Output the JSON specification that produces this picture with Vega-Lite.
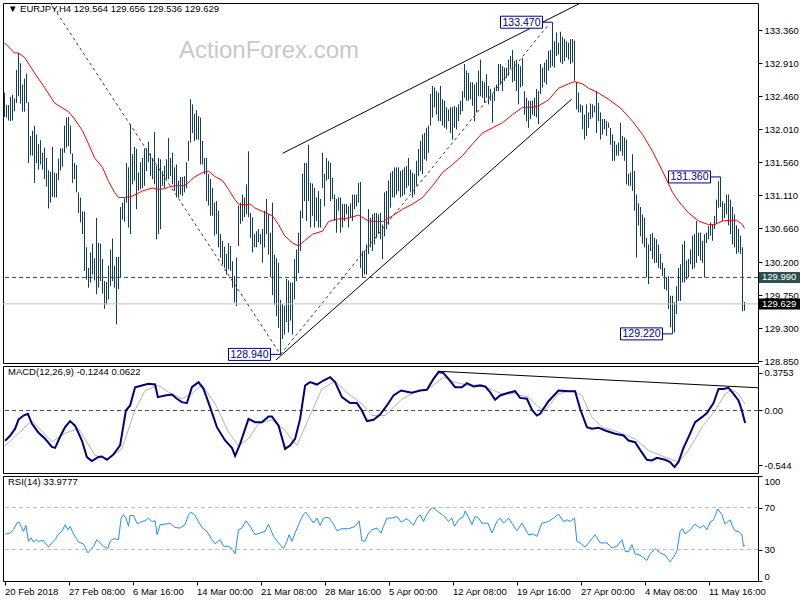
{
"$schema":"https://vega.github.io/schema/vega-lite/v6.json",
"background":"white",
"padding":{"left":2,"top":2,"right":0,"bottom":0},
"bounds":"flush",
"spacing":3,
"config":{
 "view":{"stroke":"#000000","strokeWidth":1},
 "axis":{"labelFont":"Liberation Sans","labelFontSize":9.5,"labelColor":"#000000","tickColor":"#000000","domain":false,"grid":false,"tickSize":4,"labelPadding":2,"labelOverlap":false,"labelBound":false},
 "title":{"font":"Liberation Sans","fontSize":9.5,"fontWeight":"normal","color":"#000000","anchor":"start","frame":"group","baseline":"middle"}
},
"datasets":{
"one":[{"n":1}],
"bars":[
{"i":0,"h":132.51,"l":132.18},{"i":1,"h":132.34,"l":132.17},{"i":2,"h":132.34,"l":132.13},{"i":3,"h":132.45,"l":132.12},{"i":4,"h":132.48,"l":132.13},{"i":5,"h":132.43,"l":132.26},{"i":6,"h":132.82,"l":132.37},{"i":7,"h":133.05,"l":132.46},{"i":8,"h":132.91,"l":132.36},{"i":9,"h":132.62,"l":132.25},
{"i":10,"h":132.70,"l":132.25},{"i":11,"h":132.77,"l":132.37},{"i":12,"h":132.38,"l":131.55},{"i":13,"h":131.92,"l":131.65},{"i":14,"h":131.99,"l":131.65},{"i":15,"h":132.06,"l":131.28},{"i":16,"h":131.94,"l":131.55},{"i":17,"h":131.81,"l":131.46},{"i":18,"h":131.86,"l":131.53},{"i":19,"h":131.69,"l":131.46},
{"i":20,"h":131.76,"l":131.33},{"i":21,"h":131.62,"l":131.23},{"i":22,"h":131.45,"l":130.93},{"i":23,"h":131.43,"l":131.01},{"i":24,"h":131.77,"l":131.09},{"i":25,"h":131.42,"l":131.08},{"i":26,"h":131.41,"l":131.08},{"i":27,"h":131.61,"l":131.32},{"i":28,"h":131.75,"l":131.45},{"i":29,"h":131.75,"l":131.50},
{"i":30,"h":132.06,"l":131.69},{"i":31,"h":132.17,"l":131.76},{"i":32,"h":132.18,"l":131.78},{"i":33,"h":132.06,"l":131.67},{"i":34,"h":131.68,"l":131.28},{"i":35,"h":131.55,"l":131.33},{"i":36,"h":131.52,"l":131.15},{"i":37,"h":131.15,"l":130.87},{"i":38,"h":131.08,"l":130.74},{"i":39,"h":130.89,"l":130.58},
{"i":40,"h":130.89,"l":130.08},{"i":41,"h":130.40,"l":129.96},{"i":42,"h":130.12,"l":129.85},{"i":43,"h":130.33,"l":129.92},{"i":44,"h":130.45,"l":130.03},{"i":45,"h":130.25,"l":129.95},{"i":46,"h":130.80,"l":129.76},{"i":47,"h":130.46,"l":129.85},{"i":48,"h":130.45,"l":129.94},{"i":49,"h":130.24,"l":129.77},
{"i":50,"h":129.94,"l":129.56},{"i":51,"h":129.93,"l":129.62},{"i":52,"h":130.15,"l":129.69},{"i":53,"h":130.37,"l":129.87},{"i":54,"h":130.52,"l":129.94},{"i":55,"h":130.15,"l":129.85},{"i":56,"h":130.27,"l":129.35},{"i":57,"h":130.27,"l":129.83},{"i":58,"h":130.95,"l":129.99},{"i":59,"h":131.01,"l":130.78},
{"i":60,"h":131.07,"l":130.75},{"i":61,"h":131.55,"l":131.01},{"i":62,"h":131.49,"l":130.67},{"i":63,"h":132.08,"l":130.58},{"i":64,"h":131.67,"l":131.26},{"i":65,"h":131.77,"l":131.31},{"i":66,"h":131.74,"l":130.92},{"i":67,"h":131.42,"l":131.17},{"i":68,"h":131.56,"l":131.19},{"i":69,"h":131.62,"l":131.21},
{"i":70,"h":131.75,"l":131.24},{"i":71,"h":131.75,"l":131.44},{"i":72,"h":131.84,"l":131.56},{"i":73,"h":131.68,"l":131.37},{"i":74,"h":131.62,"l":131.33},{"i":75,"h":131.97,"l":131.26},{"i":76,"h":131.51,"l":130.51},{"i":77,"h":131.62,"l":130.58},{"i":78,"h":131.60,"l":130.65},{"i":79,"h":131.44,"l":131.24},
{"i":80,"h":131.51,"l":131.21},{"i":81,"h":131.60,"l":131.33},{"i":82,"h":131.89,"l":131.33},{"i":83,"h":131.62,"l":131.37},{"i":84,"h":131.69,"l":131.26},{"i":85,"h":131.49,"l":131.17},{"i":86,"h":131.53,"l":131.08},{"i":87,"h":131.31,"l":131.08},{"i":88,"h":131.36,"l":131.12},{"i":89,"h":131.36,"l":131.10},
{"i":90,"h":131.37,"l":131.15},{"i":91,"h":131.56,"l":131.21},{"i":92,"h":131.85,"l":131.58},{"i":93,"h":132.42,"l":131.83},{"i":94,"h":132.35,"l":131.96},{"i":95,"h":132.22,"l":131.85},{"i":96,"h":132.27,"l":131.87},{"i":97,"h":132.19,"l":131.87},{"i":98,"h":132.17,"l":131.53},{"i":99,"h":131.85,"l":131.53},
{"i":100,"h":131.62,"l":131.40},{"i":101,"h":131.62,"l":131.03},{"i":102,"h":131.40,"l":130.97},{"i":103,"h":131.33,"l":130.83},{"i":104,"h":131.21,"l":130.83},{"i":105,"h":131.01,"l":130.56},{"i":106,"h":131.03,"l":130.58},{"i":107,"h":130.90,"l":130.40},{"i":108,"h":130.58,"l":130.26},{"i":109,"h":130.49,"l":130.17},
{"i":110,"h":130.41,"l":130.12},{"i":111,"h":130.31,"l":130.03},{"i":112,"h":130.46,"l":130.10},{"i":113,"h":130.42,"l":130.08},{"i":114,"h":130.21,"l":129.85},{"i":115,"h":130.01,"l":129.65},{"i":116,"h":130.26,"l":129.60},{"i":117,"h":130.97,"l":130.42},{"i":118,"h":131.01,"l":130.72},{"i":119,"h":131.12,"l":130.76},
{"i":120,"h":131.08,"l":130.81},{"i":121,"h":131.26,"l":130.85},{"i":122,"h":131.71,"l":130.81},{"i":123,"h":130.87,"l":130.53},{"i":124,"h":130.81,"l":130.33},{"i":125,"h":130.58,"l":130.40},{"i":126,"h":130.62,"l":130.40},{"i":127,"h":130.65,"l":130.47},{"i":128,"h":130.58,"l":130.44},{"i":129,"h":130.65,"l":130.19},
{"i":130,"h":130.90,"l":130.40},{"i":131,"h":131.06,"l":130.58},{"i":132,"h":130.85,"l":130.30},{"i":133,"h":130.60,"l":130.00},{"i":134,"h":131.01,"l":129.75},{"i":135,"h":130.30,"l":129.62},{"i":136,"h":130.25,"l":129.46},{"i":137,"h":130.19,"l":129.30},{"i":138,"h":129.68,"l":128.94},{"i":139,"h":129.63,"l":129.15},
{"i":140,"h":129.60,"l":129.21},{"i":141,"h":129.97,"l":129.38},{"i":142,"h":129.95,"l":129.24},{"i":143,"h":129.92,"l":129.40},{"i":144,"h":129.92,"l":129.21},{"i":145,"h":130.24,"l":129.69},{"i":146,"h":130.37,"l":129.94},{"i":147,"h":130.60,"l":130.05},{"i":148,"h":130.90,"l":130.35},{"i":149,"h":131.40,"l":130.80},
{"i":150,"h":131.55,"l":131.03},{"i":151,"h":131.55,"l":130.76},{"i":152,"h":131.80,"l":131.03},{"i":153,"h":131.28,"l":130.67},{"i":154,"h":131.27,"l":130.83},{"i":155,"h":131.21,"l":130.67},{"i":156,"h":131.08,"l":130.76},{"i":157,"h":131.17,"l":130.67},{"i":158,"h":131.06,"l":130.67},{"i":159,"h":131.69,"l":131.21},
{"i":160,"h":131.40,"l":130.96},{"i":161,"h":131.62,"l":131.31},{"i":162,"h":131.58,"l":131.33},{"i":163,"h":131.55,"l":131.03},{"i":164,"h":131.35,"l":131.06},{"i":165,"h":131.12,"l":130.76},{"i":166,"h":131.06,"l":130.60},{"i":167,"h":131.08,"l":130.90},{"i":168,"h":131.08,"l":130.60},{"i":169,"h":130.99,"l":130.67},
{"i":170,"h":130.99,"l":130.76},{"i":171,"h":130.99,"l":130.85},{"i":172,"h":130.96,"l":130.67},{"i":173,"h":131.00,"l":130.81},{"i":174,"h":131.12,"l":130.76},{"i":175,"h":131.12,"l":130.92},{"i":176,"h":131.12,"l":130.96},{"i":177,"h":131.28,"l":131.01},{"i":178,"h":131.29,"l":130.12},{"i":179,"h":130.35,"l":129.99},
{"i":180,"h":130.35,"l":130.03},{"i":181,"h":130.44,"l":130.03},{"i":182,"h":130.92,"l":130.31},{"i":183,"h":130.80,"l":130.40},{"i":184,"h":130.85,"l":130.35},{"i":185,"h":130.87,"l":130.44},{"i":186,"h":130.87,"l":130.53},{"i":187,"h":130.85,"l":130.58},{"i":188,"h":130.87,"l":130.51},{"i":189,"h":130.71,"l":130.24},
{"i":190,"h":131.15,"l":130.55},{"i":191,"h":131.17,"l":130.65},{"i":192,"h":131.31,"l":130.71},{"i":193,"h":131.42,"l":130.94},{"i":194,"h":131.44,"l":131.08},{"i":195,"h":131.49,"l":131.08},{"i":196,"h":131.49,"l":131.12},{"i":197,"h":131.49,"l":131.17},{"i":198,"h":131.44,"l":131.08},{"i":199,"h":131.46,"l":131.10},
{"i":200,"h":131.49,"l":131.12},{"i":201,"h":131.51,"l":131.21},{"i":202,"h":131.62,"l":131.24},{"i":203,"h":131.46,"l":131.15},{"i":204,"h":131.42,"l":131.08},{"i":205,"h":131.40,"l":131.12},{"i":206,"h":131.58,"l":131.24},{"i":207,"h":131.74,"l":131.37},{"i":208,"h":131.85,"l":131.44},{"i":209,"h":131.94,"l":131.40},
{"i":210,"h":131.96,"l":131.60},{"i":211,"h":132.03,"l":131.58},{"i":212,"h":132.06,"l":131.69},{"i":213,"h":132.49,"l":132.06},{"i":214,"h":132.60,"l":132.17},{"i":215,"h":132.58,"l":132.31},{"i":216,"h":132.53,"l":132.21},{"i":217,"h":132.51,"l":132.12},{"i":218,"h":132.60,"l":132.12},{"i":219,"h":132.42,"l":132.06},
{"i":220,"h":132.40,"l":132.03},{"i":221,"h":132.31,"l":132.01},{"i":222,"h":132.28,"l":132.12},{"i":223,"h":132.31,"l":131.96},{"i":224,"h":132.31,"l":131.87},{"i":225,"h":132.33,"l":132.03},{"i":226,"h":132.31,"l":132.01},{"i":227,"h":132.35,"l":132.12},{"i":228,"h":132.40,"l":132.21},{"i":229,"h":132.53,"l":132.26},
{"i":230,"h":132.90,"l":132.44},{"i":231,"h":132.81,"l":132.40},{"i":232,"h":132.78,"l":132.40},{"i":233,"h":132.65,"l":132.42},{"i":234,"h":132.65,"l":132.33},{"i":235,"h":132.62,"l":132.12},{"i":236,"h":132.65,"l":132.24},{"i":237,"h":132.81,"l":132.46},{"i":238,"h":132.96,"l":132.46},{"i":239,"h":132.67,"l":132.44},
{"i":240,"h":132.65,"l":132.37},{"i":241,"h":132.76,"l":132.44},{"i":242,"h":132.60,"l":132.35},{"i":243,"h":132.56,"l":132.40},{"i":244,"h":132.49,"l":132.10},{"i":245,"h":132.58,"l":132.40},{"i":246,"h":132.62,"l":132.53},{"i":247,"h":132.90,"l":132.53},{"i":248,"h":132.90,"l":132.62},{"i":249,"h":132.87,"l":132.53},
{"i":250,"h":132.85,"l":132.67},{"i":251,"h":132.85,"l":132.71},{"i":252,"h":132.96,"l":132.74},{"i":253,"h":133.01,"l":132.83},{"i":254,"h":133.09,"l":132.65},{"i":255,"h":132.94,"l":132.67},{"i":256,"h":132.96,"l":132.53},{"i":257,"h":132.90,"l":132.35},{"i":258,"h":132.87,"l":132.58},{"i":259,"h":132.98,"l":132.60},
{"i":260,"h":132.53,"l":132.21},{"i":261,"h":132.44,"l":132.12},{"i":262,"h":132.40,"l":132.03},{"i":263,"h":132.40,"l":132.15},{"i":264,"h":132.40,"l":132.21},{"i":265,"h":132.44,"l":132.19},{"i":266,"h":132.56,"l":132.17},{"i":267,"h":132.53,"l":132.08},{"i":268,"h":132.90,"l":132.49},{"i":269,"h":132.85,"l":132.58},
{"i":270,"h":132.92,"l":132.65},{"i":271,"h":132.96,"l":132.62},{"i":272,"h":133.08,"l":132.81},{"i":273,"h":133.09,"l":132.85},{"i":274,"h":133.47,"l":132.87},{"i":275,"h":133.21,"l":132.85},{"i":276,"h":133.33,"l":133.01},{"i":277,"h":133.19,"l":133.03},{"i":278,"h":133.34,"l":132.92},{"i":279,"h":133.27,"l":132.90},
{"i":280,"h":133.24,"l":132.94},{"i":281,"h":133.21,"l":132.99},{"i":282,"h":133.19,"l":132.96},{"i":283,"h":133.24,"l":132.90},{"i":284,"h":133.24,"l":132.92},{"i":285,"h":133.22,"l":132.67},{"i":286,"h":132.65,"l":132.28},{"i":287,"h":132.51,"l":132.24},{"i":288,"h":132.35,"l":132.24},{"i":289,"h":132.33,"l":132.01},
{"i":290,"h":132.21,"l":131.87},{"i":291,"h":132.35,"l":131.92},{"i":292,"h":132.24,"l":132.03},{"i":293,"h":132.36,"l":132.15},{"i":294,"h":132.35,"l":132.17},{"i":295,"h":132.33,"l":132.24},{"i":296,"h":132.53,"l":131.96},{"i":297,"h":132.37,"l":132.12},{"i":298,"h":132.24,"l":131.87},{"i":299,"h":132.15,"l":131.94},
{"i":300,"h":132.15,"l":132.01},{"i":301,"h":132.12,"l":131.92},{"i":302,"h":132.10,"l":132.03},{"i":303,"h":132.03,"l":131.80},{"i":304,"h":131.94,"l":131.58},{"i":305,"h":131.85,"l":131.58},{"i":306,"h":131.80,"l":131.65},{"i":307,"h":131.83,"l":131.65},{"i":308,"h":132.10,"l":131.71},{"i":309,"h":131.92,"l":131.65},
{"i":310,"h":131.90,"l":131.58},{"i":311,"h":131.87,"l":131.26},{"i":312,"h":131.40,"l":131.24},{"i":313,"h":131.42,"l":131.24},{"i":314,"h":131.67,"l":131.17},{"i":315,"h":131.44,"l":130.90},{"i":316,"h":131.12,"l":130.26},{"i":317,"h":131.00,"l":130.70},{"i":318,"h":130.95,"l":130.55},{"i":319,"h":130.85,"l":130.45},
{"i":320,"h":130.80,"l":130.40},{"i":321,"h":130.53,"l":129.99},{"i":322,"h":130.44,"l":129.90},{"i":323,"h":130.58,"l":130.35},{"i":324,"h":130.60,"l":130.24},{"i":325,"h":130.53,"l":130.19},{"i":326,"h":130.51,"l":130.19},{"i":327,"h":130.44,"l":130.12},{"i":328,"h":130.31,"l":130.10},{"i":329,"h":130.19,"l":130.01},
{"i":330,"h":130.12,"l":129.83},{"i":331,"h":129.99,"l":129.81},{"i":332,"h":130.01,"l":129.56},{"i":333,"h":129.74,"l":129.31},{"i":334,"h":129.74,"l":129.22},{"i":335,"h":129.65,"l":129.24},{"i":336,"h":129.87,"l":129.49},{"i":337,"h":130.12,"l":129.67},{"i":338,"h":130.17,"l":129.67},{"i":339,"h":130.44,"l":129.92},
{"i":340,"h":130.49,"l":129.92},{"i":341,"h":130.22,"l":129.96},{"i":342,"h":130.24,"l":129.99},{"i":343,"h":130.37,"l":130.17},{"i":344,"h":130.56,"l":130.10},{"i":345,"h":130.58,"l":130.12},{"i":346,"h":130.76,"l":130.19},{"i":347,"h":130.60,"l":130.28},{"i":348,"h":130.60,"l":130.22},{"i":349,"h":130.49,"l":130.19},
{"i":350,"h":130.58,"l":129.99},{"i":351,"h":130.60,"l":130.46},{"i":352,"h":130.69,"l":130.51},{"i":353,"h":130.74,"l":130.56},{"i":354,"h":130.71,"l":130.49},{"i":355,"h":130.83,"l":130.65},{"i":356,"h":131.05,"l":130.72},{"i":357,"h":131.30,"l":130.94},{"i":358,"h":131.36,"l":130.95},{"i":359,"h":131.03,"l":130.76},
{"i":360,"h":131.00,"l":130.80},{"i":361,"h":131.12,"l":130.85},{"i":362,"h":131.12,"l":130.70},{"i":363,"h":131.05,"l":130.58},{"i":364,"h":130.95,"l":130.44},{"i":365,"h":130.85,"l":130.40},{"i":366,"h":130.70,"l":130.31},{"i":367,"h":130.65,"l":130.33},{"i":368,"h":130.56,"l":130.31},{"i":369,"h":130.40,"l":129.53},
{"i":370,"h":129.656,"l":129.536}
],
"ma":[
{"i":0,"v":133.19},{"i":5,"v":133.05},{"i":7,"v":133.05},{"i":10,"v":132.99},{"i":15,"v":132.78},{"i":20,"v":132.58},{"i":25,"v":132.37},{"i":29,"v":132.30},{"i":32,"v":132.25},{"i":35,"v":132.15},{"i":39,"v":131.99},{"i":42,"v":131.81},{"i":45,"v":131.62},{"i":49,"v":131.49},{"i":52,"v":131.30},{"i":55,"v":131.15},{"i":57,"v":131.08},{"i":60,"v":131.08},{"i":64,"v":131.10},{"i":69,"v":131.17},{"i":74,"v":131.21},{"i":77,"v":131.19},{"i":80,"v":131.20},{"i":82,"v":131.22},{"i":85,"v":131.24},{"i":90,"v":131.24},{"i":93,"v":131.31},{"i":95,"v":131.36},{"i":99,"v":131.42},{"i":102,"v":131.44},{"i":105,"v":131.37},{"i":109,"v":131.31},{"i":112,"v":131.19},{"i":115,"v":131.06},{"i":117,"v":130.99},{"i":120,"v":130.98},{"i":123,"v":130.99},{"i":125,"v":130.94},{"i":129,"v":130.89},{"i":134,"v":130.83},{"i":137,"v":130.71},{"i":140,"v":130.56},{"i":144,"v":130.46},{"i":147,"v":130.42},{"i":150,"v":130.49},{"i":154,"v":130.58},{"i":159,"v":130.62},{"i":162,"v":130.75},{"i":165,"v":130.78},{"i":172,"v":130.80},{"i":177,"v":130.84},{"i":182,"v":130.76},{"i":189,"v":130.75},{"i":194,"v":130.83},{"i":199,"v":130.92},{"i":204,"v":130.99},{"i":209,"v":131.08},{"i":214,"v":131.24},{"i":219,"v":131.42},{"i":224,"v":131.53},{"i":229,"v":131.65},{"i":234,"v":131.81},{"i":239,"v":131.96},{"i":244,"v":132.03},{"i":249,"v":132.10},{"i":254,"v":132.21},{"i":259,"v":132.31},{"i":264,"v":132.31},{"i":267,"v":132.33},{"i":272,"v":132.41},{"i":277,"v":132.57},{"i":282,"v":132.63},{"i":285,"v":132.66},{"i":289,"v":132.63},{"i":292,"v":132.57},{"i":296,"v":132.52},{"i":302,"v":132.42},{"i":308,"v":132.30},{"i":314,"v":132.12},{"i":319,"v":131.94},{"i":324,"v":131.71},{"i":329,"v":131.44},{"i":334,"v":131.15},{"i":337,"v":131.03},{"i":342,"v":130.87},{"i":347,"v":130.76},{"i":352,"v":130.71},{"i":355,"v":130.71},{"i":359,"v":130.76},{"i":364,"v":130.77},{"i":366,"v":130.77},{"i":369,"v":130.71},{"i":370,"v":130.66}
],
"tls":[
{"k":"a","i":139.1,"p":131.683},{"k":"a","i":287.4,"p":133.723},
{"k":"b","i":135.75,"p":128.865},{"k":"b","i":283.6,"p":132.42}
],
"tld":[
{"k":"c","i":22.9,"p":133.737},{"k":"c","i":138,"p":128.94},
{"k":"d","i":138,"p":128.94},{"k":"d","i":271.8,"p":133.43}
],
"ann":[
{"t":"133.470","i":274,"p":133.47},{"t":"131.360","i":358,"p":131.36},{"t":"128.940","i":138,"p":128.94},{"t":"129.220","i":334,"p":129.22}
],
"tags":[
{"t":"129.990","p":129.99,"c":"slate"},{"t":"129.629","p":129.629,"c":"black"}
],
"macdtl":[{"i":216.6,"v":0.389},{"i":376.75,"v":0.225}],
"macd":[
{"i":0.3,"v":-0.30},{"i":2.8,"v":-0.25},{"i":5.3,"v":-0.18},{"i":7,"v":-0.09},{"i":9.5,"v":-0.05},{"i":11.7,"v":-0.033},{"i":13.7,"v":-0.13},{"i":17,"v":-0.22},{"i":20.3,"v":-0.28},{"i":23.7,"v":-0.36},{"i":25.3,"v":-0.37},{"i":27.8,"v":-0.26},{"i":30.3,"v":-0.165},{"i":32.8,"v":-0.105},{"i":35.3,"v":-0.15},{"i":38.7,"v":-0.297},{"i":41.2,"v":-0.462},{"i":43.7,"v":-0.50},{"i":47,"v":-0.46},{"i":48.7,"v":-0.455},{"i":51.2,"v":-0.488},{"i":54.5,"v":-0.435},{"i":57.8,"v":-0.346},{"i":60.7,"v":0.0},{"i":62.8,"v":0.05},{"i":65.3,"v":0.23},{"i":68.7,"v":0.247},{"i":72,"v":0.264},{"i":75.3,"v":0.257},{"i":76.7,"v":0.132},{"i":80.3,"v":0.149},{"i":83.7,"v":0.158},{"i":86.2,"v":0.116},{"i":88.7,"v":0.083},{"i":91.2,"v":0.073},{"i":93.7,"v":0.231},{"i":97,"v":0.281},{"i":99.5,"v":0.215},{"i":102.8,"v":0.033},{"i":106.2,"v":-0.165},{"i":110.3,"v":-0.297},{"i":113.7,"v":-0.37},{"i":115.3,"v":-0.45},{"i":117.8,"v":-0.33},{"i":122,"v":-0.083},{"i":125.3,"v":-0.116},{"i":128.7,"v":-0.116},{"i":132,"v":-0.059},{"i":133.7,"v":-0.059},{"i":137,"v":-0.149},{"i":140.3,"v":-0.38},{"i":142.8,"v":-0.346},{"i":145.3,"v":-0.28},{"i":147.8,"v":-0.083},{"i":150.3,"v":0.247},{"i":152.8,"v":0.281},{"i":156.2,"v":0.257},{"i":159.5,"v":0.297},{"i":162.8,"v":0.33},{"i":165.3,"v":0.281},{"i":168.7,"v":0.132},{"i":172.8,"v":0.073},{"i":176.2,"v":0.073},{"i":178.7,"v":0.0},{"i":181.2,"v":-0.105},{"i":184.5,"v":-0.092},{"i":187.8,"v":-0.04},{"i":191.2,"v":0.05},{"i":194.5,"v":0.149},{"i":198.3,"v":0.198},
{"i":203.7,"v":0.175},{"i":207.8,"v":0.198},{"i":211.2,"v":0.205},{"i":214.5,"v":0.313},{"i":217,"v":0.38},{"i":219.5,"v":0.37},{"i":222,"v":0.313},{"i":225.3,"v":0.231},{"i":228.7,"v":0.231},{"i":231.2,"v":0.271},{"i":234.5,"v":0.238},{"i":237.8,"v":0.248},{"i":240.3,"v":0.238},{"i":242.8,"v":0.182},{"i":245.3,"v":0.106},{"i":247.8,"v":0.149},{"i":252,"v":0.175},{"i":255.3,"v":0.191},{"i":257.8,"v":0.125},{"i":261.2,"v":0.116},{"i":263.7,"v":0.007},{"i":266.2,"v":-0.05},{"i":267.8,"v":-0.033},{"i":272,"v":0.092},{"i":277,"v":0.198},{"i":282,"v":0.191},{"i":285.3,"v":0.191},{"i":287.8,"v":0.017},{"i":291.2,"v":-0.165},{"i":293.7,"v":-0.18},{"i":297,"v":-0.17},{"i":300.3,"v":-0.198},{"i":305.3,"v":-0.231},{"i":309.5,"v":-0.248},{"i":312,"v":-0.297},{"i":315.3,"v":-0.314},{"i":317.8,"v":-0.39},{"i":321.2,"v":-0.488},{"i":323.7,"v":-0.495},{"i":326.2,"v":-0.469},{"i":330.3,"v":-0.488},{"i":332.8,"v":-0.51},{"i":335,"v":-0.56},{"i":337,"v":-0.51},{"i":339.5,"v":-0.37},{"i":342,"v":-0.264},{"i":345.3,"v":-0.116},{"i":348.7,"v":-0.066},{"i":351.2,"v":-0.026},{"i":354.5,"v":0.073},{"i":357,"v":0.214},{"i":359.5,"v":0.214},{"i":362,"v":0.224},{"i":364.5,"v":0.165},{"i":367,"v":0.099},{"i":368.7,"v":0.0},{"i":370.3,"v":-0.1244}
],
"sig":[
{"i":0.3,"v":-0.35},{"i":13.7,"v":-0.10},{"i":23.7,"v":-0.31},{"i":30.3,"v":-0.225},{"i":37,"v":-0.18},{"i":45.3,"v":-0.445},{"i":52,"v":-0.48},{"i":58.7,"v":-0.38},{"i":65.3,"v":0.007},{"i":70.3,"v":0.198},{"i":77,"v":0.248},{"i":82,"v":0.182},{"i":88.7,"v":0.116},{"i":93.7,"v":0.165},{"i":98.7,"v":0.257},{"i":105.3,"v":0.066},{"i":112,"v":-0.215},{"i":117,"v":-0.35},{"i":122,"v":-0.28},{"i":127,"v":-0.132},{"i":133.7,"v":-0.092},{"i":140.3,"v":-0.198},{"i":146.2,"v":-0.346},{"i":152,"v":-0.083},{"i":158.7,"v":0.214},{"i":165.3,"v":0.29},{"i":172,"v":0.165},{"i":178.7,"v":0.066},{"i":183.7,"v":-0.05},{"i":190.3,"v":-0.05},{"i":198.5,"v":0.11},{"i":205.3,"v":0.182},{"i":212,"v":0.214},{"i":219.5,"v":0.33},{"i":225.3,"v":0.28},{"i":232,"v":0.248},{"i":238.7,"v":0.257},{"i":243.7,"v":0.205},{"i":248.7,"v":0.165},{"i":255.3,"v":0.165},{"i":262,"v":0.132},{"i":267,"v":0.033},{"i":270.3,"v":0.0},{"i":277,"v":0.165},{"i":283.7,"v":0.198},{"i":288.7,"v":0.149},{"i":293.7,"v":-0.066},{"i":298.7,"v":-0.165},{"i":307,"v":-0.215},{"i":315.3,"v":-0.28},{"i":322,"v":-0.396},{"i":330.3,"v":-0.462},{"i":337,"v":-0.51},{"i":342,"v":-0.396},{"i":348.7,"v":-0.165},{"i":355.3,"v":0.0},{"i":360.3,"v":0.165},{"i":363.7,"v":0.205},{"i":367,"v":0.165},{"i":370.3,"v":0.0622}
],
"rsi":[
{"i":0.3,"v":44.7},{"i":2.8,"v":45.7},{"i":4.5,"v":48.8},{"i":6.2,"v":55.1},{"i":7.3,"v":56.1},{"i":8.3,"v":52.0},{"i":9.5,"v":47.3},{"i":10.7,"v":53.0},{"i":12,"v":37.8},{"i":13.3,"v":41.0},{"i":14.5,"v":37.2},{"i":15.7,"v":39.4},{"i":17,"v":37.8},{"i":19.5,"v":38.5},{"i":22,"v":32.2},{"i":23.7,"v":36.3},{"i":25.3,"v":39.4},{"i":27,"v":44.7},{"i":28.7,"v":47.3},{"i":30.3,"v":53.6},{"i":31.7,"v":48.8},{"i":32.8,"v":52.0},{"i":34.5,"v":44.7},{"i":37,"v":37.2},{"i":39.5,"v":35.3},{"i":41.7,"v":26.8},{"i":42.8,"v":29.0},{"i":44.5,"v":33.1},{"i":46.2,"v":39.4},{"i":47.8,"v":36.3},{"i":49.5,"v":33.1},{"i":51.7,"v":30.9},{"i":52.8,"v":37.8},{"i":54.5,"v":40.4},{"i":57,"v":39.4},{"i":58.3,"v":59.9},{"i":59.5,"v":63.1},{"i":60.7,"v":59.9},{"i":62,"v":52.0},{"i":62.8,"v":62.4},{"i":64.5,"v":62.4},{"i":66.2,"v":55.1},{"i":67.3,"v":55.1},{"i":68.7,"v":56.7},{"i":70.3,"v":57.3},{"i":72,"v":59.9},{"i":73.7,"v":56.7},{"i":75.3,"v":57.3},{"i":76.3,"v":44.1},{"i":77.8,"v":53.6},{"i":80.3,"v":54.2},{"i":82.8,"v":55.1},{"i":85.3,"v":51.0},{"i":87.8,"v":50.4},{"i":90.3,"v":53.6},{"i":92,"v":63.1},{"i":93.3,"v":65.6},{"i":95,"v":63.1},{"i":97,"v":56.7},{"i":98.7,"v":51.0},{"i":101.2,"v":47.3},{"i":103.7,"v":39.4},{"i":105.3,"v":35.3},{"i":107.8,"v":39.4},{"i":109.5,"v":33.1},{"i":112,"v":33.1},{"i":113.7,"v":30.9},{"i":115.3,"v":25.9},{"i":117,"v":48.8},{"i":118.7,"v":50.4},{"i":120.8,"v":57.3},{"i":122.8,"v":52.0},{"i":125.3,"v":44.1},{"i":127.8,"v":45.7},{"i":130.3,"v":47.3},{"i":132,"v":54.2},{"i":134.5,"v":42.5},{"i":137,"v":36.3},{"i":139.5,"v":30.9},{"i":141.2,"v":37.8},{"i":142.3,"v":44.1},{"i":143.7,"v":37.8},{"i":145.3,"v":45.7},{"i":147,"v":53.6},{"i":149.5,"v":63.7},{"i":150.7,"v":65.6},{"i":152.8,"v":59.9},{"i":154.5,"v":55.1},{"i":156.2,"v":59.9},{"i":157.8,"v":52.9},{"i":159.5,"v":59.9},{"i":162,"v":60.6},{"i":164.5,"v":54.2},{"i":166.2,"v":47.9},{"i":168.7,"v":49.8},{"i":172,"v":49.8},{"i":175.3,"v":52.0},{"i":177.3,"v":57.3},{"i":178.7,"v":38.5},{"i":180.3,"v":37.8},{"i":182,"v":45.7},{"i":183.7,"v":48.8},{"i":186.2,"v":50.4},{"i":188.3,"v":45.7},{"i":189.5,"v":52.0},{"i":191.2,"v":59.9},{"i":193.7,"v":59.9},{"i":196.2,"v":61.4},{"i":198.3,"v":56.1},
{"i":201.2,"v":59.3},{"i":202.8,"v":56.7},{"i":204.5,"v":53.0},{"i":206.2,"v":59.9},{"i":207.8,"v":63.1},{"i":209.5,"v":56.7},{"i":211.2,"v":63.7},{"i":213.7,"v":69.9},{"i":215.3,"v":68.7},{"i":217,"v":65.6},{"i":219.5,"v":62.4},{"i":222,"v":56.7},{"i":223.7,"v":59.9},{"i":225,"v":52.0},{"i":227,"v":58.3},{"i":229.5,"v":61.4},{"i":230.3,"v":66.8},{"i":232,"v":60.6},{"i":233.7,"v":53.6},{"i":235.3,"v":61.4},{"i":237,"v":59.9},{"i":238.7,"v":55.1},{"i":241.7,"v":55.1},{"i":243.7,"v":45.7},{"i":246.2,"v":56.7},{"i":247.8,"v":59.9},{"i":249.5,"v":55.1},{"i":252,"v":59.9},{"i":253.7,"v":55.1},{"i":256.2,"v":47.9},{"i":258.7,"v":55.1},{"i":262,"v":44.1},{"i":264.5,"v":44.7},{"i":266.2,"v":42.5},{"i":268.7,"v":55.1},{"i":272,"v":56.7},{"i":274.5,"v":59.9},{"i":277,"v":63.7},{"i":279.5,"v":56.7},{"i":281.2,"v":58.3},{"i":282.8,"v":56.7},{"i":285,"v":59.9},{"i":286.2,"v":37.8},{"i":287.8,"v":36.3},{"i":290.3,"v":32.2},{"i":292,"v":36.3},{"i":295.3,"v":44.1},{"i":297.8,"v":36.3},{"i":301.2,"v":36.3},{"i":303.7,"v":31.5},{"i":306.2,"v":33.1},{"i":308.7,"v":39.4},{"i":310.3,"v":28.4},{"i":312,"v":27.7},{"i":313.7,"v":34.7},{"i":315.3,"v":25.9},{"i":317.8,"v":24.6},{"i":321.2,"v":19.6},{"i":322.8,"v":25.9},{"i":325.3,"v":30.9},{"i":327.8,"v":27.0},{"i":330.3,"v":24.6},{"i":332.8,"v":18.3},{"i":334.5,"v":22.7},{"i":336.2,"v":28.4},{"i":337.8,"v":47.3},{"i":339,"v":49.8},{"i":340.3,"v":44.7},{"i":342.8,"v":48.8},{"i":345.3,"v":54.2},{"i":347.8,"v":50.4},{"i":349.5,"v":52.9},{"i":351.2,"v":48.8},{"i":352.8,"v":56.1},{"i":354.5,"v":58.3},{"i":356.7,"v":68.7},{"i":358.7,"v":63.1},{"i":360.3,"v":54.2},{"i":362.8,"v":58.3},{"i":364,"v":52.0},{"i":365.3,"v":47.9},{"i":367.3,"v":46.7},{"i":368.7,"v":44.1},{"i":369.5,"v":33.1},{"i":370.3,"v":33.98}
]
},
"vconcat":[
{
 "width":755,"height":360,
 "title":{"text":"▼  EURJPY,H4  129.564 129.656 129.536 129.629","offset":-10,"dx":5},
 "layer":[
  {"data":{"name":"bars"},"mark":{"type":"rule","color":"#123d5a","strokeWidth":1},
   "encoding":{"x":{"field":"i","type":"quantitative","scale":{"domain":[-0.75,376.75],"nice":false,"zero":false},"axis":null,"title":null},
               "y":{"field":"h","type":"quantitative","title":null,"scale":{"domain":[128.823,133.732],"nice":false,"zero":false},
                    "axis":{"orient":"right","values":[128.85,129.3,129.75,130.2,130.66,131.11,131.56,132.01,132.46,132.91,133.36],"tickCount":40,"format":".3f","labelFlush":false,"labelOverlap":false}},
               "y2":{"field":"l"}}},
  {"data":{"name":"one"},"mark":{"type":"text","text":"ActionForex.com","font":"Liberation Sans","fontSize":24,"color":"#c8c8c8","align":"left","baseline":"middle"},
   "encoding":{"x":{"datum":87.25,"type":"quantitative","axis":null},
               "y":{"datum":133.078,"type":"quantitative"}}},
  {"data":{"name":"one"},"mark":{"type":"rule","color":"#2f4f4f","strokeDash":[4,3],"strokeWidth":1},
   "encoding":{"y":{"datum":129.99,"type":"quantitative"}}},
  {"data":{"name":"one"},"mark":{"type":"rule","color":"#c0c0c0","strokeWidth":1},
   "encoding":{"y":{"datum":129.629,"type":"quantitative"}}},
  {"data":{"name":"ma"},"mark":{"type":"line","color":"#ff0000","strokeWidth":1,"clip":true},
   "encoding":{"x":{"field":"i","type":"quantitative","axis":null,"title":null},
               "y":{"field":"v","type":"quantitative","title":null}}},
  {"data":{"name":"tls"},"mark":{"type":"line","color":"#000000","strokeWidth":1,"clip":true},
   "encoding":{"x":{"field":"i","type":"quantitative","axis":null,"title":null},
               "y":{"field":"p","type":"quantitative","title":null},
               "detail":{"field":"k"}}},
  {"data":{"name":"tld"},"mark":{"type":"line","color":"#404040","strokeWidth":1,"strokeDash":[3,3],"clip":true},
   "encoding":{"x":{"field":"i","type":"quantitative","axis":null,"title":null},
               "y":{"field":"p","type":"quantitative","title":null},
               "detail":{"field":"k"}}},
  {"data":{"name":"ann"},"mark":{"type":"rule","color":"#00008b","strokeWidth":1,"xOffset":-10},
   "encoding":{"x":{"field":"i","type":"quantitative","axis":null,"title":null},
               "x2":{"field":"i"},
               "y":{"field":"p","type":"quantitative","title":null}}},
  {"data":{"name":"ann"},"mark":{"type":"rect","fill":"#ffffff","stroke":"#00008b","strokeWidth":1,"xOffset":-52,"x2Offset":-10,"yOffset":-6,"y2Offset":6},
   "encoding":{"x":{"field":"i","type":"quantitative","axis":null,"title":null},
               "x2":{"field":"i"},
               "y":{"field":"p","type":"quantitative","title":null},
               "y2":{"field":"p"}}},
  {"data":{"name":"ann"},"mark":{"type":"text","font":"Liberation Sans","fontSize":10.5,"color":"#00008b","align":"right","baseline":"middle","dx":-12,"dy":0.5},
   "encoding":{"x":{"field":"i","type":"quantitative","axis":null,"title":null},
               "y":{"field":"p","type":"quantitative","title":null},
               "text":{"field":"t"}}},
  {"data":{"name":"tags"},"mark":{"type":"rect","xOffset":1,"x2Offset":42,"yOffset":-5.5,"y2Offset":5.5},
   "encoding":{"x":{"datum":376.75,"type":"quantitative","axis":null},"x2":{"datum":376.75},
               "y":{"field":"p","type":"quantitative","title":null},"y2":{"field":"p"},
               "color":{"field":"c","type":"nominal","scale":{"domain":["slate","black"],"range":["#2f4f4f","#000000"]},"legend":null}}},
  {"data":{"name":"tags"},"mark":{"type":"text","font":"Liberation Sans","fontSize":9.5,"color":"#ffffff","align":"left","baseline":"middle","dx":4},
   "encoding":{"x":{"datum":376.75,"type":"quantitative","axis":null},
               "y":{"field":"p","type":"quantitative","title":null},
               "text":{"field":"t"}}}
 ]
},
{
 "width":755,"height":107,
 "title":{"text":"MACD(12,26,9) -0.1244 0.0622","offset":-10,"dx":5},
 "layer":[
  {"data":{"name":"sig"},"mark":{"type":"line","color":"#b4b4b4","strokeWidth":1,"clip":true},
   "encoding":{"x":{"field":"i","type":"quantitative","scale":{"domain":[-0.75,376.75],"nice":false,"zero":false},"axis":null,"title":null},
               "y":{"field":"v","type":"quantitative","title":null,"scale":{"domain":[-0.619,0.4406],"nice":false,"zero":false},
                    "axis":{"orient":"right","values":[0.3753,0,-0.544],"tickCount":20,"labelExpr":"datum.value == 0 ? '0.00' : '' + datum.value","labelFlush":false,"labelOverlap":false}}}},
  {"data":{"name":"one"},"mark":{"type":"rule","color":"#505050","strokeDash":[4,3],"strokeWidth":1},
   "encoding":{"y":{"datum":0,"type":"quantitative"}}},
  {"data":{"name":"macd"},"mark":{"type":"line","color":"#000080","strokeWidth":2,"clip":true},
   "encoding":{"x":{"field":"i","type":"quantitative","axis":null,"title":null},
               "y":{"field":"v","type":"quantitative","title":null}}},
  {"data":{"name":"macdtl"},"mark":{"type":"line","color":"#000000","strokeWidth":1,"clip":true},
   "encoding":{"x":{"field":"i","type":"quantitative","axis":null,"title":null},
               "y":{"field":"v","type":"quantitative","title":null}}}
 ]
},
{
 "width":755,"height":105,
 "title":{"text":"RSI(14) 33.9777","offset":-11,"dx":5},
 "layer":[
  {"data":{"name":"rsi"},"mark":{"type":"line","color":"#1e90ff","strokeWidth":1,"clip":true},
   "encoding":{"x":{"field":"i","type":"quantitative","title":null,"scale":{"domain":[-0.75,376.75],"nice":false,"zero":false},
                    "axis":{"orient":"bottom","values":[0,32,64,96,128,160,192,224,256,288,320,352],"tickCount":40,
                      "labelExpr":"['20 Feb 2018','27 Feb 08:00','6 Mar 16:00','14 Mar 00:00','21 Mar 08:00','28 Mar 16:00','5 Apr 00:00','12 Apr 08:00','19 Apr 16:00','27 Apr 00:00','4 May 08:00','11 May 16:00'][round(datum.value/32)]",
                      "labelAlign":"left","labelBaseline":"top","labelFlush":false,"labelOverlap":false,"labelBound":false,"tickSize":4,"labelPadding":1}},
               "y":{"field":"v","type":"quantitative","title":null,"scale":{"domain":[0,100],"nice":false,"zero":false},
                    "axis":{"orient":"right","values":[100,70,30,0],"tickCount":20,"labelFlush":true,"labelOverlap":false}}}},
  {"data":{"name":"one"},"mark":{"type":"rule","color":"#c0c0c0","strokeDash":[4,3],"strokeWidth":1},
   "encoding":{"y":{"datum":70,"type":"quantitative"}}},
  {"data":{"name":"one"},"mark":{"type":"rule","color":"#c0c0c0","strokeDash":[4,3],"strokeWidth":1},
   "encoding":{"y":{"datum":30,"type":"quantitative"}}}
 ]
}
]
}
